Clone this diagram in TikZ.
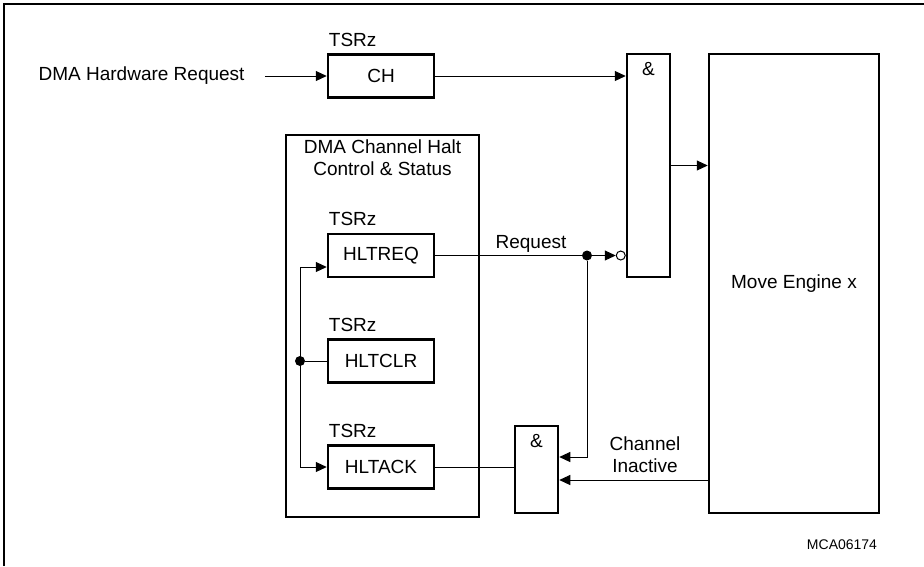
\documentclass[tikz,border=0pt]{standalone}
\usepackage{fontspec}
\setmainfont{Liberation Sans}
\usetikzlibrary{arrows.meta,positioning,calc}

\begin{document}
\begin{tikzpicture}[x=1pt,y=-1pt,
    font=\fontsize{19}{22}\selectfont,
    reg/.style={draw,line width=2.5pt,minimum width=106pt,minimum height=43pt,inner sep=0pt},
    gate/.style={draw,line width=2.5pt,inner sep=0pt},
    sig/.style={line width=1pt,-{Triangle[length=11pt,width=10pt]}},
    wire/.style={line width=1pt},
    dot/.style={circle,fill,inner sep=0pt,minimum size=10pt},
    tsr/.style={anchor=base west,inner sep=0pt}]
            \useasboundingbox (0,0) rectangle (924,566);
            \draw[line width=1.5pt] (4,566) -- (4,4) -- (924,4);

            \node[reg] (ch) at (381,76) {CH};
            \node[reg] (hltreq) at (381,255.5) {HLTREQ};
            \node[reg] (hltclr) at (381,361) {HLTCLR};
            \node[reg] (hltack) at (381,467) {HLTACK};
            \foreach \r in {ch,hltreq,hltclr,hltack}
            {
                \node[tsr] (tsr-\r) at ($(\r.north west)+(2,-7)$) {TSRz};
            }

            \node[gate,minimum width=193pt,minimum height=382pt] (halt) at (382.5,326) {};
            \node[anchor=north,align=center,inner sep=0pt] (halttitle) at ($(halt.north)+(0,6)$) {DMA Channel Halt\\Control \& Status};

            \node[gate,minimum width=43pt,minimum height=223pt] (anda) at (648.5,165.5) {};
            \node[gate,minimum width=43pt,minimum height=87pt] (andb) at (536.5,469.5) {};
            \node[gate,minimum width=170pt,minimum height=459pt] (engine) at (794,283.5) {Move Engine x};
            \foreach \g in {anda,andb}
            {
                \node[inner sep=0pt,anchor=north] (\g-sym) at ($(\g.north)+(0,9)$) {\&};
            }

            \node[inner sep=0pt] (hwreq) [left=82pt of ch] {DMA Hardware Request};
            \node[inner sep=0pt,anchor=base] (reqlabel) at (531,248) {Request};
            \node[inner sep=0pt,align=center] (chlabel) at (645,455) {Channel\\Inactive};
            \node[inner sep=0pt,font=\fontsize{14}{16}\selectfont] (mca) at (842,545) {MCA06174};

            \draw[sig] ([xshift=20pt]hwreq.east) -- (ch.west);
            \draw[sig] (ch.east) -- (ch.east -| anda.west);
            \draw[sig] (anda.east) -- (anda.east -| engine.west);

            \node[dot] (reqdot) at (587,255.5) {};
            \node[circle,draw,line width=1pt,inner sep=0pt,minimum size=9pt,anchor=east] (bubble) at (anda.west |- reqdot) {};
            \draw[wire] (hltreq.east) -- (reqdot);
            \draw[sig] (reqdot) -- (bubble);
            \draw[sig] (reqdot) |- ($(andb.east)+(0,-12.5)$);

            \coordinate (bustop) at (300,267);
            \coordinate (busbot) at (300,467);
            \draw[wire] (bustop) -- (busbot);
            \draw[sig] (bustop) -- (bustop -| hltreq.west);
            \draw[sig] (busbot) -- (busbot -| hltack.west);
            \node[dot] (clrdot) at (bustop |- hltclr.west) {};
            \draw[wire] (clrdot) -- (hltclr.west);

            \draw[wire] (hltack.east) -- (hltack.east -| andb.west);
            \coordinate (inact) at ($(engine.west)+(0,196.5)$);
            \draw[sig] (inact) -- (inact -| andb.east);
        \end{tikzpicture}
\end{document}
